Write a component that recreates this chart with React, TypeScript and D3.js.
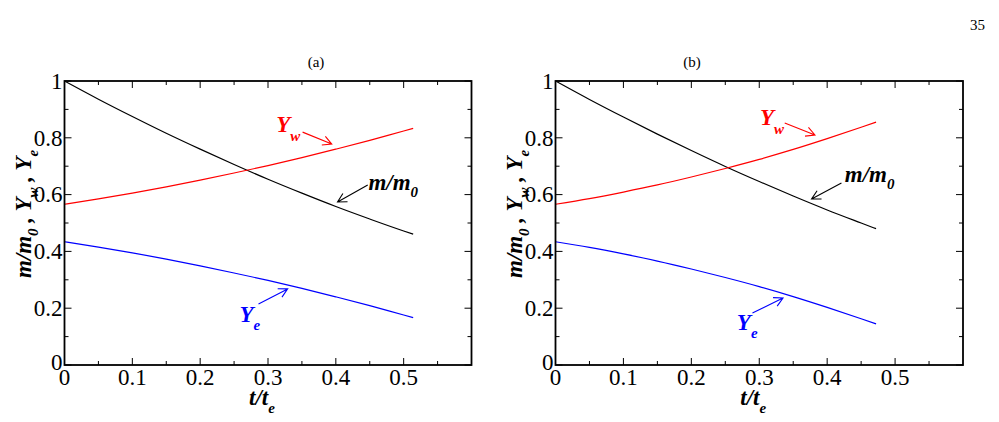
import React from "react";
import * as d3 from "d3";

// ---- Data: case (a) ----
const timeA = [0, 0.05, 0.1, 0.15, 0.2, 0.25, 0.3, 0.35, 0.4, 0.45, 0.5, 0.514];
const massA = [1.0, 0.936, 0.875, 0.816, 0.76, 0.706, 0.654, 0.605, 0.558, 0.514, 0.472, 0.461];
const ywA = [0.566, 0.585, 0.605, 0.627, 0.651, 0.676, 0.702, 0.73, 0.76, 0.791, 0.824, 0.833];
const yeA = [0.434, 0.415, 0.395, 0.373, 0.349, 0.324, 0.298, 0.27, 0.24, 0.209, 0.176, 0.167];

// ---- Data: case (b) ----
const timeB = [0, 0.05, 0.1, 0.15, 0.2, 0.25, 0.3, 0.35, 0.4, 0.45, 0.472];
const massB = [1.0, 0.935, 0.873, 0.813, 0.755, 0.699, 0.646, 0.595, 0.546, 0.5, 0.48];
const ywB = [0.566, 0.586, 0.609, 0.634, 0.662, 0.692, 0.724, 0.759, 0.797, 0.837, 0.855];
const yeB = [0.434, 0.414, 0.391, 0.366, 0.338, 0.308, 0.276, 0.241, 0.203, 0.163, 0.145];

// ---- Axes ----
const xTicks = [0, 0.1, 0.2, 0.3, 0.4, 0.5];
const xTickLabels = ["0", "0.1", "0.2", "0.3", "0.4", "0.5"];
const xMinorTicks = [0.05, 0.15, 0.25, 0.35, 0.45, 0.55];
const yTicks = [0, 0.2, 0.4, 0.6, 0.8, 1];
const yTickLabels = ["0", "0.2", "0.4", "0.6", "0.8", "1"];
const yMinorTicks = [0.1, 0.3, 0.5, 0.7, 0.9];

// Annotation anchors in data units: [text t, text v, arrow from t, v, arrow to t, v]
const annotA = {
  yw: [0.312, 0.82, 0.351, 0.82, 0.394, 0.778],
  mass: [0.448, 0.616, 0.447, 0.634, 0.4025, 0.574],
  ye: [0.258, 0.151, 0.286, 0.215, 0.329, 0.268],
};
const annotB = {
  yw: [0.301, 0.845, 0.3375, 0.852, 0.382, 0.81],
  mass: [0.426, 0.644, 0.421, 0.641, 0.377, 0.5845],
  ye: [0.267, 0.123, 0.29, 0.183, 0.335, 0.236],
};

const SERIF = "Liberation Serif, DejaVu Serif, serif";
const FS = 23;
const SUB = 15;

type Annot = { yw: number[]; mass: number[]; ye: number[] };

function arrowPath(x1: number, y1: number, x2: number, y2: number) {
  const ang = Math.atan2(y2 - y1, x2 - x1);
  const len = 10;
  const spread = (28 * Math.PI) / 180;
  const ax = x2 - len * Math.cos(ang - spread);
  const ay = y2 - len * Math.sin(ang - spread);
  const bx = x2 - len * Math.cos(ang + spread);
  const by = y2 - len * Math.sin(ang + spread);
  return `M${x1},${y1}L${x2},${y2}M${ax},${ay}L${x2},${y2}L${bx},${by}`;
}

function Panel(props: {
  left: number;
  right: number;
  title: string;
  titleX: number;
  time: number[];
  mass: number[];
  yw: number[];
  ye: number[];
  annot: Annot;
}) {
  const { left, right, title, titleX, time, mass, yw, ye, annot } = props;
  const top = 81;
  const bottom = 365;
  const x = d3.scaleLinear().domain([0, 0.6]).range([left, right]);
  const y = d3.scaleLinear().domain([0, 1]).range([bottom, top]);
  const line = (vals: number[]) =>
    d3
      .line<number>()
      .x((_, i) => x(time[i]))
      .y((d) => y(d))
      .curve(d3.curveMonotoneX)(vals) || "";

  const majorLen = 7;
  const minorLen = 4;
  const cx = (left + right) / 2;

  const label = (
    a: number[],
    color: string,
    main: string,
    sub: string,
    subDy: number
  ) => (
    <g>
      <text
        x={x(a[0])}
        y={y(a[1])}
        fill={color}
        style={{ fontFamily: SERIF }}
        fontWeight="bold"
        fontStyle="italic"
        fontSize={FS}
      >
        {main}
        <tspan dy={subDy} fontSize={SUB}>
          {sub}
        </tspan>
      </text>
      <path
        d={arrowPath(x(a[2]), y(a[3]), x(a[4]), y(a[5]))}
        fill="none"
        stroke={color}
        strokeWidth={1.1}
      />
    </g>
  );

  return (
    <g>
      <text x={titleX} y={67} style={{ fontFamily: SERIF }} fontSize={15} textAnchor="middle" fill="#000">
        {title}
      </text>

      {/* ticks on all four sides, pointing inward */}
      {xTicks.map((t) => (
        <g key={"xt" + t}>
          <line x1={x(t)} x2={x(t)} y1={bottom} y2={bottom - majorLen} stroke="#000" strokeWidth={1} />
          <line x1={x(t)} x2={x(t)} y1={top} y2={top + majorLen} stroke="#000" strokeWidth={1} />
        </g>
      ))}
      {xMinorTicks.map((t) => (
        <g key={"xm" + t}>
          <line x1={x(t)} x2={x(t)} y1={bottom} y2={bottom - minorLen} stroke="#000" strokeWidth={1} />
          <line x1={x(t)} x2={x(t)} y1={top} y2={top + minorLen} stroke="#000" strokeWidth={1} />
        </g>
      ))}
      {yTicks.map((v) => (
        <g key={"yt" + v}>
          <line x1={left} x2={left + majorLen} y1={y(v)} y2={y(v)} stroke="#000" strokeWidth={1} />
          <line x1={right} x2={right - majorLen} y1={y(v)} y2={y(v)} stroke="#000" strokeWidth={1} />
        </g>
      ))}
      {yMinorTicks.map((v) => (
        <g key={"ym" + v}>
          <line x1={left} x2={left + minorLen} y1={y(v)} y2={y(v)} stroke="#000" strokeWidth={1} />
          <line x1={right} x2={right - minorLen} y1={y(v)} y2={y(v)} stroke="#000" strokeWidth={1} />
        </g>
      ))}

      {/* curves */}
      <path d={line(mass)} fill="none" stroke="#000" strokeWidth={1.2} />
      <path d={line(yw)} fill="none" stroke="#ff0000" strokeWidth={1.2} />
      <path d={line(ye)} fill="none" stroke="#0000ff" strokeWidth={1.2} />

      {/* frame */}
      <rect x={left} y={top} width={right - left} height={bottom - top} fill="none" stroke="#000" strokeWidth={1.8} />

      {/* tick labels */}
      {xTicks.map((t, i) => (
        <text key={"xl" + t} x={x(t)} y={385} textAnchor="middle" style={{ fontFamily: SERIF }} fontSize={FS} fill="#000">
          {xTickLabels[i]}
        </text>
      ))}
      {yTicks.map((v, i) => (
        <text
          key={"yl" + v}
          x={left - 2}
          y={y(v) - (v === 0 ? 3 : 0)}
          dy="0.34em"
          textAnchor="end"
          style={{ fontFamily: SERIF }}
          fontSize={FS}
          fill="#000"
        >
          {yTickLabels[i]}
        </text>
      ))}

      {/* axis titles */}
      <text x={cx - 6} y={405} textAnchor="middle" style={{ fontFamily: SERIF }} fontWeight="bold" fontStyle="italic" fontSize={FS} fill="#000">
        t/t
        <tspan dy={8} fontSize={SUB}>
          e
        </tspan>
      </text>
      <text
        transform={`translate(${left - 34},${(top + bottom) / 2 - 9}) rotate(-90)`}
        textAnchor="middle"
        style={{ fontFamily: SERIF }}
        fontWeight="bold"
        fontStyle="italic"
        fontSize={FS}
        fill="#000"
      >
        m/m
        <tspan dy={7} fontSize={SUB}>
          0
        </tspan>
        <tspan dy={-7}>{"\u00a0, Y"}</tspan>
        <tspan dy={7} fontSize={SUB}>
          w
        </tspan>
        <tspan dy={-7}>{"\u00a0, Y"}</tspan>
        <tspan dy={7} fontSize={SUB}>
          e
        </tspan>
      </text>

      {/* curve labels */}
      {label(annot.yw, "#ff0000", "Y", "w", 9)}
      {label(annot.mass, "#000", "m/m", "0", 7)}
      {label(annot.ye, "#0000ff", "Y", "e", 8)}
    </g>
  );
}

export default function App() {
  return (
    <svg
      width={999}
      height={422}
      viewBox="0 0 999 422"
      style={{ position: "absolute", left: 0, top: 0, background: "#fff" }}
    >
      <rect width={999} height={422} fill="#fff" />
      <text x={985} y={30} textAnchor="end" style={{ fontFamily: SERIF }} fontSize={15} fill="#000">
        35
      </text>
      <Panel
        left={64.5}
        right={471.5}
        title="(a)"
        titleX={316}
        time={timeA}
        mass={massA}
        yw={ywA}
        ye={yeA}
        annot={annotA}
      />
      <Panel
        left={555.5}
        right={963}
        title="(b)"
        titleX={692}
        time={timeB}
        mass={massB}
        yw={ywB}
        ye={yeB}
        annot={annotB}
      />
    </svg>
  );
}
